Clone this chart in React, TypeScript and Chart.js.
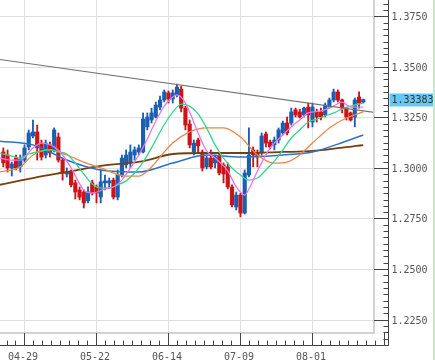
import React, { useEffect, useRef } from 'react';
import { Chart, registerables } from 'chart.js';

Chart.register(...registerables);

// ---- data ----
const FIRST_INDEX = -5; // candle index of the first candle (index 0 = 04-29)

const opens = [
  1.3079, 1.3064, 1.3000, 1.3049, 1.3005, 1.3039, 1.3104, 1.3158, 1.3178, 1.3123,
  1.3064, 1.3114, 1.3089, 1.3153, 1.3039, 1.2970, 1.2980, 1.2926, 1.2891, 1.2881,
  1.2837, 1.2926, 1.2906, 1.2856, 1.2926, 1.2926, 1.2940, 1.2856, 1.2965, 1.3015,
  1.3029, 1.3064, 1.3079, 1.3079, 1.3203, 1.3237, 1.3252, 1.3301, 1.3336, 1.3371,
  1.3341, 1.3361, 1.3390, 1.3296, 1.3217, 1.3079, 1.3138, 1.3079, 1.3005, 1.3049,
  1.3025, 1.3059, 1.3015, 1.3005, 1.2906, 1.2807, 1.2866, 1.2777, 1.2965, 1.3089,
  1.3074, 1.3074, 1.3168, 1.3128, 1.3114, 1.3138, 1.3173, 1.3222, 1.3222, 1.3287,
  1.3277, 1.3262, 1.3301, 1.3227, 1.3277, 1.3277, 1.3262, 1.3301, 1.3336, 1.3376,
  1.3336, 1.3296, 1.3272, 1.3252, 1.3351, 1.3326,
];
const highs = [
  1.3099, 1.3089, 1.3029, 1.3064, 1.3064, 1.3114, 1.3188, 1.3237, 1.3212, 1.3138,
  1.3138, 1.3128, 1.3198, 1.3173, 1.3049, 1.3000, 1.2990, 1.2940, 1.2906, 1.2891,
  1.2906, 1.2940, 1.2916, 1.2990, 1.2965, 1.2950, 1.2950, 1.2990, 1.3064, 1.3089,
  1.3114, 1.3104, 1.3114, 1.3272, 1.3272, 1.3296, 1.3326, 1.3356, 1.3386, 1.3381,
  1.3386, 1.3415, 1.3405, 1.3306, 1.3237, 1.3138, 1.3148, 1.3089, 1.3059, 1.3089,
  1.3064, 1.3074, 1.3025, 1.3025, 1.2916, 1.2881, 1.2876, 1.2990, 1.3198, 1.3104,
  1.3089, 1.3173, 1.3178, 1.3138, 1.3153, 1.3198, 1.3232, 1.3252, 1.3296, 1.3296,
  1.3291, 1.3301, 1.3321, 1.3321, 1.3291, 1.3296, 1.3321, 1.3346, 1.3390, 1.3386,
  1.3341, 1.3301, 1.3277, 1.3346, 1.3376, 1.3341,
];
const lows = [
  1.3005, 1.2980, 1.2960, 1.2990, 1.2980, 1.3029, 1.3089, 1.3148, 1.3039, 1.3039,
  1.3049, 1.3054, 1.3079, 1.3029, 1.2940, 1.2955, 1.2906, 1.2846, 1.2842, 1.2802,
  1.2827, 1.2866, 1.2827, 1.2827, 1.2891, 1.2901, 1.2846, 1.2842, 1.2955, 1.3000,
  1.3000, 1.3039, 1.3064, 1.3074, 1.3188, 1.3222, 1.3247, 1.3287, 1.3326, 1.3321,
  1.3321, 1.3351, 1.3277, 1.3188, 1.3099, 1.3064, 1.3074, 1.2985, 1.2995, 1.2995,
  1.3000, 1.2965, 1.2926, 1.2896, 1.2807, 1.2792, 1.2758, 1.2772, 1.2955, 1.3005,
  1.3005, 1.3064, 1.3104, 1.3094, 1.3089, 1.3123, 1.3163, 1.3163, 1.3212, 1.3252,
  1.3247, 1.3252, 1.3198, 1.3203, 1.3227, 1.3237, 1.3252, 1.3296, 1.3326, 1.3326,
  1.3272, 1.3237, 1.3232, 1.3203, 1.3296, 1.3321,
];
const closes = [
  1.3025, 1.3000, 1.3020, 1.3000, 1.3044, 1.3099, 1.3173, 1.3178, 1.3099, 1.3054,
  1.3123, 1.3074, 1.3188, 1.3039, 1.2980, 1.2980, 1.2916, 1.2881, 1.2856, 1.2827,
  1.2881, 1.2876, 1.2876, 1.2931, 1.2936, 1.2936, 1.2856, 1.2965, 1.3049, 1.3064,
  1.3079, 1.3089, 1.3099, 1.3242, 1.3252, 1.3272, 1.3311, 1.3336, 1.3376, 1.3341,
  1.3371, 1.3400, 1.3296, 1.3212, 1.3114, 1.3123, 1.3109, 1.3000, 1.3049, 1.3005,
  1.3054, 1.2975, 1.2970, 1.2906, 1.2817, 1.2866, 1.2777, 1.2975, 1.3064, 1.3064,
  1.3054, 1.3158, 1.3123, 1.3104, 1.3138, 1.3188, 1.3222, 1.3173, 1.3277, 1.3262,
  1.3252, 1.3296, 1.3262, 1.3301, 1.3252, 1.3252, 1.3311, 1.3336, 1.3376, 1.3336,
  1.3296, 1.3252, 1.3237, 1.3336, 1.3321, 1.33383,
];

const dateLabels = ['04-29', '05-22', '06-14', '07-09', '08-01'];
const dateLabelIndex = [0, 17, 34, 51, 68];
const priceTickLabels = [1.225, 1.25, 1.275, 1.3, 1.325, 1.35, 1.375];
const lastPrice = 1.33383;

// moving averages (read at selected candle indexes)
const ma5Index = [-6, -3, -1, 2, 4, 7, 9, 11, 14, 16, 19, 21, 23, 25, 27, 29, 31, 33, 35, 36, 38, 41, 43, 45, 48, 50, 52, 53, 55, 58, 60, 63, 65, 67, 70, 73, 75, 77, 80];
const ma5Values = [1.3049, 1.3039, 1.3039, 1.3099, 1.3123, 1.3104, 1.3064, 1.3000, 1.2891, 1.2876, 1.2896, 1.2906, 1.2940, 1.3000, 1.3064, 1.3143, 1.3232, 1.3306, 1.3351, 1.3361, 1.3321, 1.3173, 1.3084, 1.3049, 1.2985, 1.2906, 1.2866, 1.2896, 1.2985, 1.3099, 1.3143, 1.3203, 1.3237, 1.3272, 1.3282, 1.3306, 1.3326, 1.3301, 1.3301];

const ma10Index = [-6, -3, -1, 1, 3, 6, 8, 10, 12, 14, 16, 18, 20, 22, 24, 26, 28, 30, 32, 34, 36, 37, 39, 41, 43, 45, 47, 49, 51, 53, 55, 57, 59, 61, 63, 65, 67, 69, 71, 73, 75, 77, 80];
const ma10Values = [1.3074, 1.3059, 1.3049, 1.3069, 1.3079, 1.3089, 1.3079, 1.3069, 1.3024, 1.2970, 1.2921, 1.2901, 1.2901, 1.2916, 1.2936, 1.2975, 1.3029, 1.3099, 1.3178, 1.3247, 1.3301, 1.3316, 1.3306, 1.3267, 1.3198, 1.3114, 1.3049, 1.3000, 1.2965, 1.2940, 1.2950, 1.2990, 1.3034, 1.3089, 1.3148, 1.3188, 1.3227, 1.3242, 1.3257, 1.3272, 1.3291, 1.3306, 1.3321];

const ma25Index = [-6, -1, 2, 6, 10, 14, 18, 24, 27, 30, 32, 35, 39, 43, 47, 51, 55, 59, 62, 64, 68, 72, 76, 80];
const ma25Values = [1.2980, 1.3005, 1.3064, 1.3089, 1.3064, 1.3029, 1.3000, 1.2960, 1.2960, 1.3005, 1.3054, 1.3123, 1.3178, 1.3198, 1.3198, 1.3153, 1.3064, 1.3024, 1.3029, 1.3049, 1.3123, 1.3198, 1.3247, 1.3277];

const ma75Index = [-6, 2, 6, 10, 14, 18, 27, 35, 43, 51, 61, 68, 74, 80];
const ma75Values = [1.3133, 1.3114, 1.3079, 1.3039, 1.3010, 1.2990, 1.2980, 1.3024, 1.3064, 1.3054, 1.3064, 1.3079, 1.3118, 1.3163];

const ma200Index = [-6, 2, 10, 18, 28, 35, 43, 51, 61, 68, 80];
const ma200Values = [1.2916, 1.2950, 1.2980, 1.3010, 1.3034, 1.3069, 1.3074, 1.3074, 1.3079, 1.3084, 1.3113];

const trendIndex = [-6, 83];
const trendValues = [1.3537, 1.3273];

// ---- style ----
const UP = '#1c5fb0';
const DOWN = '#cc1418';
const X_MIN = -5.785;
const X_MAX = 82.53;
const Y_MIN = 1.21837;
const Y_MAX = 1.38306;
const SUB = 8; // sub-divisions between major ticks
const FONT = '10px "DejaVu Sans Mono", monospace';

const pts = (idx: number[], vals: number[]) => idx.map((k, i) => ({ x: k, y: vals[i] }));

const axesPlugin = {
  id: 'fxAxes',
  beforeDatasetsDraw(chart: any) {
    const { ctx, chartArea } = chart;
    const xs = chart.scales.x;
    const ys = chart.scales.y;
    ctx.save();
    ctx.strokeStyle = '#e0e0e0';
    ctx.lineWidth = 1;
    priceTickLabels.forEach((p) => {
      const y = Math.round(ys.getPixelForValue(p)) + 0.5;
      ctx.beginPath();
      ctx.moveTo(chartArea.left, y);
      ctx.lineTo(chartArea.right, y);
      ctx.stroke();
    });
    dateLabelIndex.forEach((k) => {
      const x = Math.round(xs.getPixelForValue(k)) + 0.5;
      ctx.beginPath();
      ctx.moveTo(x, chartArea.top);
      ctx.lineTo(x, chartArea.bottom);
      ctx.stroke();
    });
    ctx.restore();
  },
  afterDraw(chart: any) {
    const { ctx, chartArea } = chart;
    const xs = chart.scales.x;
    const ys = chart.scales.y;
    const axisX = chartArea.right + 14.5;
    const axisY = chartArea.bottom + 12.5;
    ctx.save();
    // plot frame
    ctx.fillStyle = '#d2d2d2';
    ctx.fillRect(chartArea.right - 1, 0, 2, chartArea.bottom + 1);
    ctx.fillRect(0, chartArea.bottom - 1, chartArea.right + 1, 2);
    // axis lines
    ctx.strokeStyle = '#444';
    ctx.lineWidth = 1;
    ctx.beginPath();
    ctx.moveTo(axisX, 0);
    ctx.lineTo(axisX, axisY);
    ctx.lineTo(0, axisY);
    ctx.stroke();
    // y ticks
    const step = 0.025 / SUB;
    ctx.font = FONT;
    ctx.fillStyle = '#555';
    ctx.textAlign = 'left';
    ctx.textBaseline = 'alphabetic';
    for (let j = -SUB; j <= 7 * SUB; j++) {
      const p = 1.225 + j * step;
      const y = Math.round(ys.getPixelForValue(p)) + 0.5;
      if (y < 0 || y > axisY) continue;
      const major = j % SUB === 0;
      ctx.beginPath();
      ctx.moveTo(major ? chartArea.right : axisX - 5, y);
      ctx.lineTo(axisX, y);
      ctx.stroke();
      if (major) ctx.fillText(p.toFixed(4), axisX + 3, y + 3.5);
    }
    // x ticks
    const kStep = 17 / SUB;
    for (let j = -3; j <= 6 * SUB; j++) {
      const k = j * kStep;
      const x = Math.round(xs.getPixelForValue(k)) + 0.5;
      if (x < 0 || x > axisX - 1) continue;
      const major = j % SUB === 0;
      ctx.beginPath();
      ctx.moveTo(x, major ? chartArea.bottom : axisY - 5);
      ctx.lineTo(x, axisY);
      ctx.stroke();
    }
    ctx.textAlign = 'center';
    dateLabels.forEach((lab, i) => {
      const x = xs.getPixelForValue(dateLabelIndex[i]);
      ctx.fillText(lab, x - 1.5, axisY + 14);
    });
    // last price tag
    const py = ys.getPixelForValue(lastPrice);
    ctx.fillStyle = '#64c8f8';
    ctx.fillRect(axisX + 1, Math.round(py) - 6.5, 44, 13);
    ctx.fillStyle = '#333';
    ctx.textAlign = 'left';
    ctx.fillText(lastPrice.toFixed(5), axisX + 3, py + 3.5);
    // right edge strip
    ctx.fillStyle = '#c4ecc4';
    ctx.fillRect(433, 0, 2, 360);
    ctx.restore();
  },
};

export default function App() {
  const ref = useRef<HTMLCanvasElement>(null);
  useEffect(() => {
    if (!ref.current) return;
    const idx = opens.map((_, i) => FIRST_INDEX + i);
    const up = opens.map((o, i) => closes[i] >= o);
    const bodies = opens.map((o, i) => {
      let lo = Math.min(o, closes[i]);
      let hi = Math.max(o, closes[i]);
      if (hi - lo < 0.0005) {
        const m = (hi + lo) / 2;
        lo = m - 0.00025;
        hi = m + 0.00025;
      }
      return { x: idx[i], y: [lo, hi] };
    });
    const wicks = opens.map((_, i) => ({ x: idx[i], y: [lows[i], highs[i]] }));
    const colorOf = (c: any) => (up[c.dataIndex] ? UP : DOWN);
    const line = (data: any, color: string, width: number) => ({
      type: 'line',
      data,
      borderColor: color,
      borderWidth: width,
      pointRadius: 0,
      fill: false,
      cubicInterpolationMode: 'monotone',
    });
    const chart = new Chart(ref.current, {
      type: 'bar',
      data: {
        datasets: [
          { ...line(pts(trendIndex, trendValues), '#737373', 1.2), cubicInterpolationMode: 'default', tension: 0 },
          line(pts(ma5Index, ma5Values), '#ea76e4', 1.3),
          line(pts(ma10Index, ma10Values), '#34d68e', 1.3),
          line(pts(ma25Index, ma25Values), '#ee8448', 1.3),
          line(pts(ma75Index, ma75Values), '#2a74c8', 1.5),
          line(pts(ma200Index, ma200Values), '#74400f', 1.8),
          {
            type: 'bar',
            data: bodies,
            backgroundColor: colorOf,
            borderWidth: 0,
            barThickness: 3.5,
            grouped: false,
          },
          {
            type: 'bar',
            data: wicks,
            backgroundColor: colorOf,
            borderWidth: 0,
            barThickness: 1.2,
            grouped: false,
          },
        ] as any,
      },
      options: {
        animation: false,
        responsive: false,
        devicePixelRatio: 1,
        events: [],
        layout: { padding: { left: 0, top: 0, right: 61, bottom: 27 } },
        plugins: { legend: { display: false }, tooltip: { enabled: false } },
        scales: {
          x: { type: 'linear', min: X_MIN, max: X_MAX, display: false, offset: false },
          y: { type: 'linear', min: Y_MIN, max: Y_MAX, display: false },
        },
      } as any,
      plugins: [axesPlugin],
    });
    return () => chart.destroy();
  }, []);
  return (
    <div style={{ position: 'absolute', left: 0, top: 0, width: 435, height: 360, background: '#fff' }}>
      <canvas ref={ref} width={435} height={360} style={{ display: 'block' }} />
    </div>
  );
}
